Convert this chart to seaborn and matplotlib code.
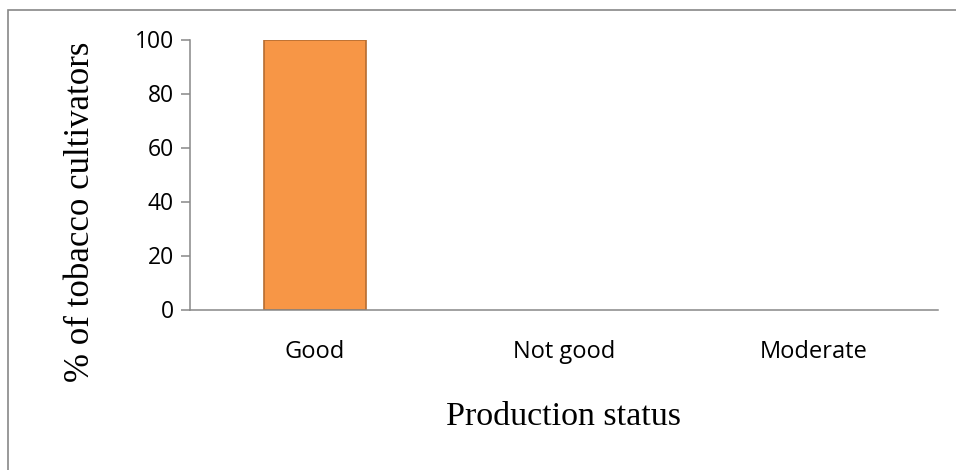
import matplotlib
matplotlib.use("Agg")
import matplotlib.pyplot as plt
from matplotlib.patches import Rectangle
import seaborn as sns
import pandas as pd

# Production status reported by tobacco cultivators
categories = ["Good", "Not good", "Moderate"]
percentages = [100, 0, 0]
y_ticks = [0, 20, 40, 60, 80, 100]

df = pd.DataFrame({"status": categories, "pct": percentages})

sns.set_theme(style="white")
plt.rcParams["font.family"] = ["Open Sans", "DejaVu Sans"]
plt.rcParams["text.color"] = "black"
plt.rcParams["xtick.color"] = "black"
plt.rcParams["ytick.color"] = "black"

W, H = 956, 470
fig = plt.figure(figsize=(W / 100, H / 100), dpi=100)
ax = fig.add_axes([190 / W, 1 - 309.5 / H, (938 - 190) / W, (309.5 - 39.5) / H])

sns.barplot(data=df, x="status", y="pct", ax=ax, color="#F79646",
            edgecolor="#B66D31", linewidth=1.2, width=0.41, saturation=1)

# empty categories leave no visible bar
for bar in ax.patches:
    if bar.get_height() == 0:
        bar.set_visible(False)

ax.set_ylim(0, 100)
ax.set_yticks(y_ticks)
ax.set_yticklabels([str(t) for t in y_ticks], fontsize=16.5)
ax.tick_params(axis="y", direction="out", length=6.5, width=1.1, color="#888888",
               labelcolor="black", left=True, pad=5)
ax.tick_params(axis="x", length=0, pad=22, labelsize=17, labelcolor="black")

for side in ["top", "right"]:
    ax.spines[side].set_visible(False)
for side in ["left", "bottom"]:
    ax.spines[side].set_color("#888888")
    ax.spines[side].set_linewidth(1.1)

ax.set_xlabel("")
ax.set_ylabel("")

serif = ["Liberation Serif", "DejaVu Serif"]
fig.text(564 / W, 1 - 417 / H, "Production status", ha="center", va="center",
         fontsize=24.5, family=serif, color="black")
fig.text(81 / W, 1 - 212 / H, "% of tobacco cultivators", ha="center", va="center",
         rotation=90, fontsize=25, family=serif, color="black")

# chart frame, left and top edges visible
fig.patches.append(Rectangle((8 / W, -0.5), 2.0, 0.5 + 1 - 9.5 / H,
                             transform=fig.transFigure, fill=False,
                             edgecolor="#888888", linewidth=1.2))

fig.savefig("out.png", dpi=100, facecolor="white")
